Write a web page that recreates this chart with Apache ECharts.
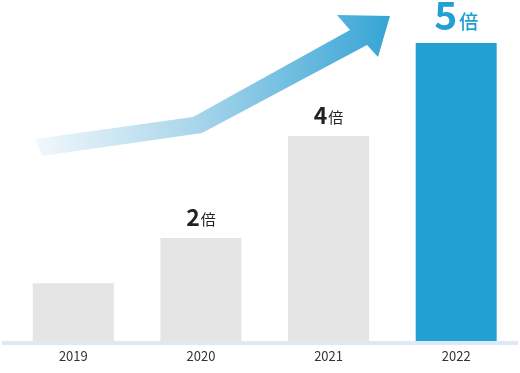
<!DOCTYPE html>
<html><head><meta charset="utf-8">
<script src="https://cdn.jsdelivr.net/npm/echarts@6/dist/echarts.min.js"></script>
<style>html,body{margin:0;padding:0;background:#fff}#c{width:520px;height:373px}</style>
</head><body><div id="c"></div>
<script>
const categories = ['2019', '2020', '2021', '2022'];
const values = [0.97, 1.73, 3.44, 5.0];
const multipliers = ['', '2', '4', '5'];
const unit = '倍';

const chart = echarts.init(document.getElementById('c'), null, {renderer: 'canvas'});
const font = '"Noto Sans CJK JP", "Noto Sans", sans-serif';

const data = values.map((v, i) => {
  const last = i === values.length - 1;
  return {
    value: v,
    itemStyle: {color: last ? '#22a0d1' : '#e5e5e5'},
    label: {
      show: multipliers[i] !== '',
      position: 'top',
      distance: last ? 8 : 9,
      formatter: last ? '{bn|' + multipliers[i] + '}{bu|' + unit + '}' : '{n|' + multipliers[i] + '}{u|' + unit + '}',
      rich: {
        n: {fontSize: 23, fontFamily: font, color: '#222', fontWeight: 'bold', verticalAlign: 'bottom'},
        u: {fontSize: 15, fontFamily: font, color: '#222', verticalAlign: 'bottom', padding: [0, 0, 2, 1]},
        bn: {fontSize: 39, fontFamily: font, color: '#22a0d1', fontWeight: 'bold', verticalAlign: 'bottom'},
        bu: {fontSize: 19, fontFamily: font, color: '#22a0d1', fontWeight: 500, verticalAlign: 'bottom', padding: [0, 0, 4, 2]}
      }
    }
  };
});

chart.setOption({
  animation: false,
  grid: {left: 9.5, width: 512, top: 43, bottom: 32},
  xAxis: {
    type: 'category', data: categories,
    axisLine: {show: false}, axisTick: {show: false},
    axisLabel: {color: '#333', fontSize: 13, fontFamily: font, margin: 9}
  },
  yAxis: {type: 'value', min: 0, max: 5, show: false, splitLine: {show: false}},
  series: [{type: 'bar', data: data, barWidth: 81}],
  graphic: [
    {type: 'rect', shape: {x: 2, y: 341, width: 516, height: 4}, style: {fill: '#dde9f4'}, z: 10},
    {type: 'polygon', z: 10,
     shape: {points: [[35,139],[193,117],[350,30],[337,15],[390,16],[378,57],[367,45],[202,133],[42,156]]},
     style: {fill: new echarts.graphic.LinearGradient(0, 0, 1, 0, [
       {offset: 0, color: '#f2f8fc'},
       {offset: 0.45, color: '#a9d6eb'},
       {offset: 1, color: '#36a4d5'}
     ], false)}}
  ]
});
</script></body></html>
